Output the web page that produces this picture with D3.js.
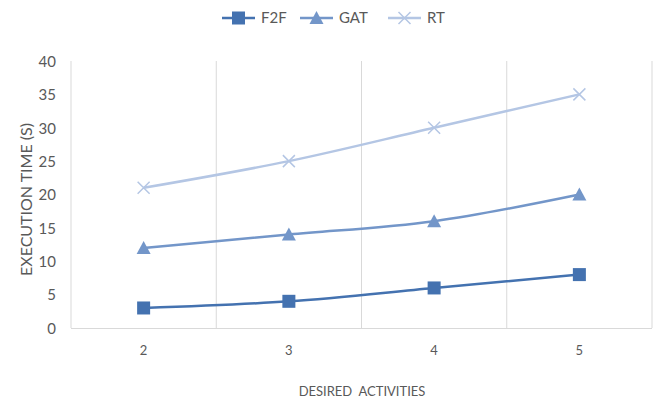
<!DOCTYPE html>
<html>
<head>
<meta charset="utf-8">
<script src="https://cdn.jsdelivr.net/npm/d3@7/dist/d3.min.js"></script>
<style>
  html, body { margin: 0; padding: 0; background: #fff; }
  text { font-family: Lato, "Open Sans", sans-serif; fill: #595959; }
</style>
</head>
<body>
<svg id="chart" width="661" height="403"></svg>
<script>
// Execution time by number of desired activities
const categories = ["2", "3", "4", "5"];
const seriesNames = ["F2F", "GAT", "RT"];
const f2f = [3, 4, 6, 8];
const gat = [12, 14, 16, 20];
const rt = [21, 25, 30, 35];
const yTicks = [0, 5, 10, 15, 20, 25, 30, 35, 40];

const seriesColors = ["#4472b0", "#7396c9", "#b4c6e4"];
const seriesMarkers = ["square", "triangle", "cross"];
const seriesData = [f2f, gat, rt];

const svg = d3.select("#chart");
const margin = { left: 71, right: 9, top: 61, bottom: 75 };
const W = 661, H = 403;

const x = d3.scaleBand().domain(categories).range([margin.left, W - margin.right]).paddingInner(0).paddingOuter(0);
const y = d3.scaleLinear().domain([0, 40]).range([H - margin.bottom, margin.top]);

// vertical gridlines between categories
const boundaries = categories.map(c => x(c) + x.bandwidth());
svg.append("g").selectAll("line").data(boundaries).join("line")
  .attr("x1", d => d).attr("x2", d => d)
  .attr("y1", y(40)).attr("y2", y(0))
  .attr("stroke", "#d9d9d9").attr("stroke-width", 1);

// axes lines
svg.append("line").attr("x1", margin.left).attr("x2", margin.left)
  .attr("y1", y(40)).attr("y2", y(0)).attr("stroke", "#d9d9d9");
svg.append("line").attr("x1", margin.left).attr("x2", W - margin.right)
  .attr("y1", y(0) + 0.5).attr("y2", y(0) + 0.5).attr("stroke", "#d9d9d9");

// y axis labels
const yAxis = d3.axisLeft(y).tickValues(yTicks).tickSize(0).tickPadding(15);
const gy = svg.append("g").attr("transform", `translate(${margin.left},0)`).call(yAxis);
gy.select(".domain").remove();
gy.selectAll("text").style("font-size", "15px").attr("fill", "#595959").attr("dy", "0.35em");

// x axis labels
const xAxis = d3.axisBottom(x).tickSize(0).tickPadding(18);
const gx = svg.append("g").attr("transform", `translate(0,${y(0)})`).call(xAxis);
gx.select(".domain").remove();
gx.selectAll("text").style("font-size", "13px").attr("fill", "#595959");

// axis titles
svg.append("text").attr("x", 362).attr("y", 396).attr("text-anchor", "middle")
  .style("font-size", "13px").attr("xml:space", "preserve").text("DESIRED  ACTIVITIES");
svg.append("text").attr("transform", `translate(32,${(y(0) + y(40)) / 2 + 5}) rotate(-90)`)
  .attr("text-anchor", "middle").style("font-size", "16px").text("EXECUTION TIME (S)");

const cx = c => x(c) + x.bandwidth() / 2;
const line = d3.line().x((d, i) => cx(categories[i])).y(d => y(d)).curve(d3.curveMonotoneX);

function drawMarker(g, type, px, py, color) {
  if (type === "square") {
    g.append("rect").attr("x", px - 6.5).attr("y", py - 6.5).attr("width", 13).attr("height", 13).attr("fill", color);
  } else if (type === "triangle") {
    g.append("path").attr("d", `M${px},${py - 7} L${px + 7},${py + 6} L${px - 7},${py + 6} Z`).attr("fill", color);
  } else {
    g.append("path").attr("d", `M${px - 6},${py - 6} L${px + 6},${py + 6} M${px - 6},${py + 6} L${px + 6},${py - 6}`)
      .attr("stroke", color).attr("stroke-width", 1.5).attr("fill", "none");
  }
}

// series lines and markers (lighter series first so darker ones sit on top)
[2, 1, 0].forEach(s => {
  const g = svg.append("g");
  g.append("path").datum(seriesData[s]).attr("d", line)
    .attr("fill", "none").attr("stroke", seriesColors[s]).attr("stroke-width", 2.5);
  seriesData[s].forEach((v, i) => drawMarker(g, seriesMarkers[s], cx(categories[i]), y(v), seriesColors[s]));
});

// legend
const legendX = [222, 300, 388];
const legendY = 18;
seriesNames.forEach((name, s) => {
  const g = svg.append("g");
  const lx = legendX[s];
  g.append("line").attr("x1", lx).attr("x2", lx + 33).attr("y1", legendY).attr("y2", legendY)
    .attr("stroke", seriesColors[s]).attr("stroke-width", 2.5);
  drawMarker(g, seriesMarkers[s], lx + 16.5, legendY, seriesColors[s]);
  g.append("text").attr("x", lx + 39).attr("y", legendY).attr("dy", "0.35em")
    .style("font-size", "15px").text(name);
});
</script>
</body>
</html>
